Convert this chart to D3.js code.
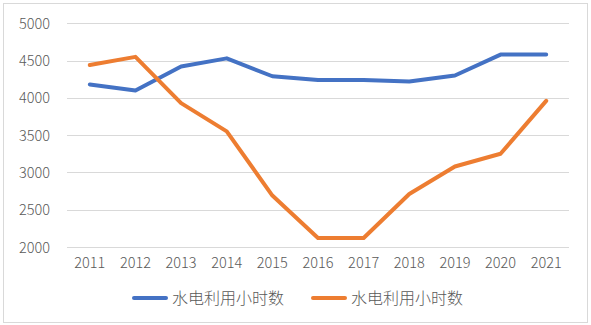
<!DOCTYPE html>
<html><head><meta charset="utf-8">
<script src="https://cdn.jsdelivr.net/npm/d3@7"></script>
<style>
html,body{margin:0;padding:0;background:#fff;}
text{font-family:"Noto Sans CJK SC","Noto Sans",sans-serif;fill:#595959;font-weight:300;}
</style></head>
<body>
<svg id="c" width="591" height="325"></svg>
<script>
const categories = ["2011","2012","2013","2014","2015","2016","2017","2018","2019","2020","2021"];
const seriesBlue = [4180,4100,4420,4530,4290,4240,4240,4220,4300,4580,4580];
const seriesOrange = [4440,4550,3930,3550,2690,2120,2120,2710,3080,3250,3960];
const seriesNames = ["水电利用小时数","水电利用小时数"];
const yTicks = [2000,2500,3000,3500,4000,4500,5000];
const colors = ["#4472C4","#ED7D31"];

const svg = d3.select("#c");
svg.append("rect").attr("x",3.5).attr("y",3.5).attr("width",584).attr("height",319)
  .attr("fill","#fff").attr("stroke","#D9D9D9").attr("stroke-width",1);

const x = d3.scaleBand().domain(categories).range([67,569]);
const y = d3.scaleLinear().domain([2000,5000]).range([247,23.3]);

const g = svg.append("g");
g.selectAll("line.grid").data(yTicks).enter().append("line")
  .attr("x1",67).attr("x2",569)
  .attr("y1",d=>Math.round(y(d))+0.5).attr("y2",d=>Math.round(y(d))+0.5)
  .attr("stroke","#D9D9D9").attr("stroke-width",1);

const yAxis = d3.axisLeft(y).tickValues(yTicks).tickFormat(d3.format("d")).tickSize(0).tickPadding(0);
svg.append("g").attr("transform","translate(50,0)").call(yAxis)
  .call(s=>s.select(".domain").remove())
  .selectAll("text").style("font-size","14.5px").style("font-family",null).attr("fill","#595959").attr("dy","0.35em");

const xAxis = d3.axisBottom(x).tickSize(0).tickPadding(0);
svg.append("g").attr("transform","translate(0,258)").call(xAxis)
  .call(s=>s.select(".domain").remove())
  .selectAll("text").style("font-size","14.5px").style("font-family",null).attr("fill","#595959").attr("dy","0.71em");

const line = d3.line().x((d,i)=>x(categories[i])+x.bandwidth()/2).y(d=>y(d));
[seriesBlue, seriesOrange].forEach((s,i)=>{
  svg.append("path").datum(s).attr("d",line).attr("fill","none")
    .attr("stroke",colors[i]).attr("stroke-width",4).attr("stroke-linejoin","round").attr("stroke-linecap","round");
});

const legX = [132,311];
seriesNames.forEach((n,i)=>{
  svg.append("line").attr("x1",legX[i]+2).attr("x2",legX[i]+34).attr("y1",298).attr("y2",298)
    .attr("stroke",colors[i]).attr("stroke-width",4).attr("stroke-linecap","round");
  svg.append("text").attr("x",legX[i]+40).attr("y",298).attr("dy","0.35em")
    .style("font-size","16px").text(n);
});
</script>
</body></html>
